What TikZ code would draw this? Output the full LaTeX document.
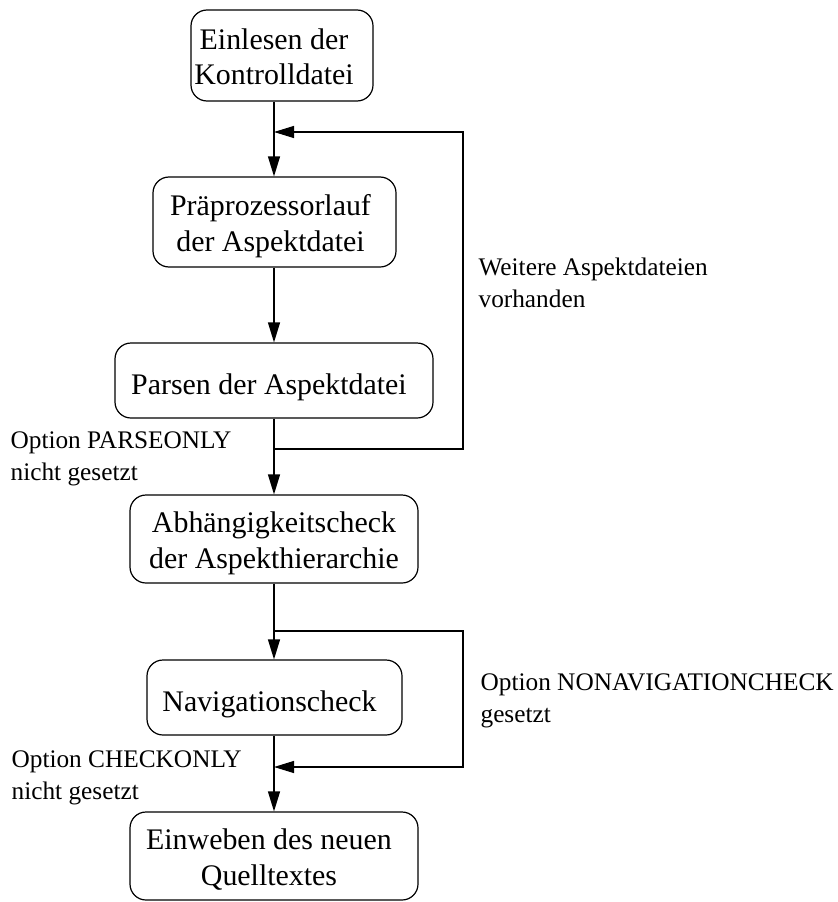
\documentclass[tikz,border=0pt]{standalone}
\usepackage{fontspec}
\setmainfont{Liberation Serif}
\usetikzlibrary{arrows.meta}
% two-line text, first line on the baseline
\newcommand{\twolines}[2]{\begin{tabular}[t]{@{}c@{}}#1\\#2\end{tabular}}
\begin{document}
\begin{tikzpicture}[x=1bp,y=-1bp,
  every path/.style={line width=1.2bp},
  flowbox/.style={draw, rounded corners=16bp, inner sep=0pt,
    font=\rmfamily\fontsize{30}{36}\selectfont},
  oneline/.style={text height=33bp, text depth=6bp},
  twoline/.style={text height=20bp, text depth=33bp},
  flowarrow/.style={-{Triangle[length=20bp,width=12bp]}},
  sidelabel/.style={inner sep=0pt, font=\rmfamily\fontsize{25.4}{33}\selectfont}]
\useasboundingbox (0,0) rectangle (838,902);

% vertical spine and right return line
\coordinate (spine) at (274,0);
\coordinate (rx) at (463,0);

% process steps
\node[flowbox, twoline, minimum width=182bp, minimum height=91bp] (b1) at (282,55.5)
  {\twolines{Einlesen der}{Kontrolldatei}\hspace*{16bp}};
\node[flowbox, twoline, minimum width=243bp, minimum height=90bp] (b2) at (274.5,222)
  {\twolines{Präprozessorlauf}{der Aspektdatei}\hspace*{8bp}};
\node[flowbox, oneline, minimum width=318bp, minimum height=75bp] (b3) at (274,380.5)
  {Parsen der Aspektdatei\hspace*{10bp}};
\node[flowbox, twoline, minimum width=288bp, minimum height=88bp] (b4) at (274,539)
  {\twolines{Abhängigkeitscheck}{der Aspekthierarchie}};
\node[flowbox, oneline, minimum width=255bp, minimum height=75bp] (b5) at (274.5,697.5)
  {Navigationscheck\hspace*{10bp}};
\node[flowbox, twoline, minimum width=288bp, minimum height=88bp] (b6) at (274,856)
  {\twolines{Einweben des neuen}{Quelltextes}\hspace*{10bp}};

% junction points on the spine
\coordinate (j2) at (274,132);
\coordinate (j1) at (274,449);
\coordinate (j3) at (274,631);
\coordinate (j4) at (274,767);

% main flow
\draw[flowarrow] (b1.south -| spine) -- (b2.north -| spine);
\draw[flowarrow] (b2.south -| spine) -- (b3.north -| spine);
\draw[flowarrow] (b3.south -| spine) -- (b4.north -| spine);
\draw[flowarrow] (b4.south -| spine) -- (b5.north -| spine);
\draw[flowarrow] (b5.south -| spine) -- (b6.north -| spine);

% loops back
\draw[flowarrow] (j1) -- (j1 -| rx) -- (j2 -| rx) -- (j2);
\draw[flowarrow] (j3) -- (j3 -| rx) -- (j4 -| rx) -- (j4);

% labels
\node[sidelabel, anchor=base west] (l1) at (478,275)
  {\begin{tabular}[t]{@{}l@{}}Weitere Aspektdateien\\vorhanden\end{tabular}};
\node[sidelabel, anchor=base west] (l2) at (10,448)
  {\begin{tabular}[t]{@{}l@{}}Option PARSEONLY\\nicht gesetzt\end{tabular}};
\node[sidelabel, anchor=base west] (l3) at (480,690)
  {\begin{tabular}[t]{@{}l@{}}Option NONAVIGATIONCHECK\\gesetzt\end{tabular}};
\node[sidelabel, anchor=base west] (l4) at (11,767)
  {\begin{tabular}[t]{@{}l@{}}Option CHECKONLY\\nicht gesetzt\end{tabular}};
\end{tikzpicture}
\end{document}
